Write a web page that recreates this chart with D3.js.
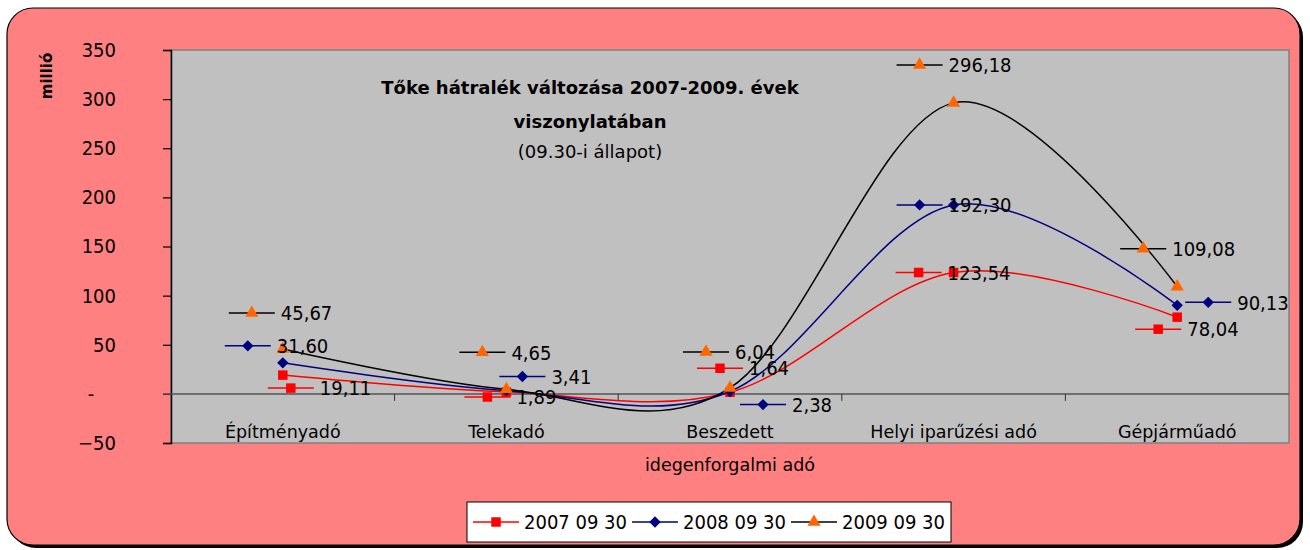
<!DOCTYPE html>
<html>
<head>
<meta charset="utf-8">
<script src="https://cdn.jsdelivr.net/npm/d3@7/dist/d3.min.js"></script>
<style>
  html, body { margin: 0; padding: 0; background: #ffffff; }
  svg { display: block; }
</style>
</head>
<body>
<svg id="chart" width="1310" height="550"></svg>
<script>
// ---------- DATA ----------
const categories = ["Építményadó", "Telekadó", "Beszedett idegenforgalmi adó", "Helyi iparűzési adó", "Gépjárműadó"];
const seriesNames = ["2007 09 30", "2008 09 30", "2009 09 30"];
const values2007 = [19.11, 1.89, 1.64, 123.54, 78.04];
const values2008 = [31.60, 3.41, 2.38, 192.30, 90.13];
const values2009 = [45.67, 4.65, 6.04, 296.18, 109.08];
const yTicks = [-50, 0, 50, 100, 150, 200, 250, 300, 350];
const titleLines = ["Tőke hátralék változása 2007-2009. évek", "viszonylatában", "(09.30-i állapot)"];
const yAxisTitle = "millió";

// label placement (pixel offsets of the label key from its point)
const labelOffsets = [
  [[8, 13], [-19, 5], [-10, -24], [-35, 0], [-19, 12]],
  [[-35, -17], [16, -14], [33, 13], [-34, 0], [31, -3]],
  [[-31, -36], [-24, -37], [-24, -36], [-34, -38], [-34, -38]]
];

// square rotated 45° (diamond with equal width and height)
const symbolRhomb = {
  draw(context, size) {
    const r = Math.sqrt(size / 2);
    context.moveTo(0, -r); context.lineTo(r, 0); context.lineTo(0, r); context.lineTo(-r, 0); context.closePath();
  }
};

const series = [
  { name: seriesNames[0], values: values2007, line: "#FF0000", marker: "#FF0000", shape: d3.symbolSquare, size: 90 },
  { name: seriesNames[1], values: values2008, line: "#000080", marker: "#000080", shape: symbolRhomb, size: 64 },
  { name: seriesNames[2], values: values2009, line: "#000000", marker: "#FF6600", shape: d3.symbolTriangle, size: 75 }
];

// ---------- LAYOUT ----------
const svg = d3.select("#chart");
const plot = { left: 171, right: 1289, top: 50, bottom: 443 };
const numFont = "'DejaVu Sans Condensed', 'DejaVu Sans', sans-serif";
const txtFont = "'DejaVu Sans', sans-serif";

// outer frame with shadow
svg.append("rect").attr("x", 10).attr("y", 11).attr("width", 1293).attr("height", 537)
  .attr("rx", 26).attr("fill", "#000");
svg.append("rect").attr("x", 7).attr("y", 8).attr("width", 1293).attr("height", 537)
  .attr("rx", 26).attr("fill", "#FF8080").attr("stroke", "#000").attr("stroke-width", 1.2);

const x = d3.scaleBand().domain(categories).range([plot.left, plot.right]).padding(0);
const y = d3.scaleLinear().domain([-50, 350]).range([plot.bottom, plot.top]);

// plot area
svg.append("rect").attr("x", plot.left).attr("y", plot.top)
  .attr("width", plot.right - plot.left).attr("height", plot.bottom - plot.top)
  .attr("fill", "#C0C0C0").attr("stroke", "#808080").attr("stroke-width", 1.5);

// y axis
const yAxis = svg.append("g").attr("transform", `translate(${plot.left},0)`)
  .call(d3.axisLeft(y).tickValues(yTicks).tickSize(8).tickPadding(0)
    .tickFormat(d => d === 0 ? "-" : d3.format("d")(d)));
yAxis.select(".domain").attr("stroke", "#000").attr("stroke-width", 1.5);
yAxis.selectAll(".tick line").attr("stroke", "#000").attr("stroke-width", 1.2);
yAxis.selectAll(".tick text")
  .attr("x", d => d === 0 ? -80 : -55)
  .attr("text-anchor", d => d === 0 ? "middle" : "end")
  .style("font-family", numFont).style("font-size", "20px").attr("fill", "#000");

// zero line (category axis)
const xAxis = svg.append("g").attr("transform", `translate(0,${y(0)})`);
xAxis.append("line").attr("x1", plot.left - 8).attr("x2", plot.right)
  .attr("y1", 0).attr("y2", 0).attr("stroke", "#555").attr("stroke-width", 1.5);
xAxis.selectAll("line.tk").data(categories.slice(1)).join("line").attr("class", "tk")
  .attr("x1", d => x(d)).attr("x2", d => x(d)).attr("y1", 0).attr("y2", 7)
  .attr("stroke", "#333").attr("stroke-width", 1);

// category labels
const catLabels = svg.append("g");
categories.forEach(c => {
  const cx = x(c) + x.bandwidth() / 2;
  const parts = c === "Beszedett idegenforgalmi adó" ? ["Beszedett", "idegenforgalmi adó"] : [c];
  parts.forEach((p, i) => {
    catLabels.append("text").attr("x", cx).attr("y", y(0) + 38 + i * 33)
      .attr("dy", "0.35em").attr("text-anchor", "middle")
      .style("font-family", txtFont).style("font-size", "17.5px").attr("fill", "#000").text(p);
  });
});

// y axis title
svg.append("text").attr("transform", "translate(47,76) rotate(-90)")
  .attr("text-anchor", "middle").attr("dy", "0.35em")
  .style("font-family", txtFont).style("font-size", "15px").style("font-weight", "bold")
  .text(yAxisTitle);

// title
const titleY = [88, 122, 152];
titleLines.forEach((t, i) => {
  svg.append("text").attr("x", 590).attr("y", titleY[i]).attr("dy", "0.35em")
    .attr("text-anchor", "middle")
    .style("font-family", txtFont).style("font-size", i === 2 ? "18px" : "18px")
    .style("font-weight", i === 2 ? "normal" : "bold").text(t);
});

// lines
const lineGen = d3.line()
  .x((d, i) => x(categories[i]) + x.bandwidth() / 2)
  .y(d => y(d))
  .curve(d3.curveCardinal.tension(0));

series.forEach(s => {
  svg.append("path").datum(s.values).attr("d", lineGen)
    .attr("fill", "none").attr("stroke", s.line).attr("stroke-width", 1.5);
});
series.forEach(s => {
  svg.append("g").selectAll("path").data(s.values).join("path")
    .attr("transform", (d, i) => `translate(${x(categories[i]) + x.bandwidth() / 2},${y(d)})`)
    .attr("d", d3.symbol().type(s.shape).size(s.size))
    .attr("fill", s.marker);
});

// data labels with legend keys
const fmt = v => d3.format(".2f")(v).replace(".", ",");
function drawKey(g, s, mx, my) {
  g.append("line").attr("x1", mx - 23).attr("x2", mx + 23).attr("y1", my).attr("y2", my)
    .attr("stroke", s.line).attr("stroke-width", 1.5);
  g.append("path").attr("transform", `translate(${mx},${my})`)
    .attr("d", d3.symbol().type(s.shape).size(s.size)).attr("fill", s.marker);
}
const labels = svg.append("g");
series.forEach((s, si) => {
  s.values.forEach((v, i) => {
    const px = x(categories[i]) + x.bandwidth() / 2;
    const py = y(v);
    const mx = px + labelOffsets[si][i][0];
    const my = py + labelOffsets[si][i][1];
    drawKey(labels, s, mx, my);
    labels.append("text").attr("x", mx + 29).attr("y", my).attr("dy", "0.36em")
      .style("font-family", numFont).style("font-size", "20px").attr("fill", "#000")
      .text(fmt(v));
  });
});

// legend
const legend = svg.append("g");
legend.append("rect").attr("x", 467).attr("y", 502).attr("width", 484).attr("height", 40)
  .attr("fill", "#fff").attr("stroke", "#000").attr("stroke-width", 1);
const legendX = [496, 655, 814];
series.forEach((s, i) => {
  drawKey(legend, s, legendX[i], 522);
  legend.append("text").attr("x", legendX[i] + 28).attr("y", 522).attr("dy", "0.36em")
    .style("font-family", numFont).style("font-size", "20px").attr("fill", "#000").text(s.name);
});
</script>
</body>
</html>
